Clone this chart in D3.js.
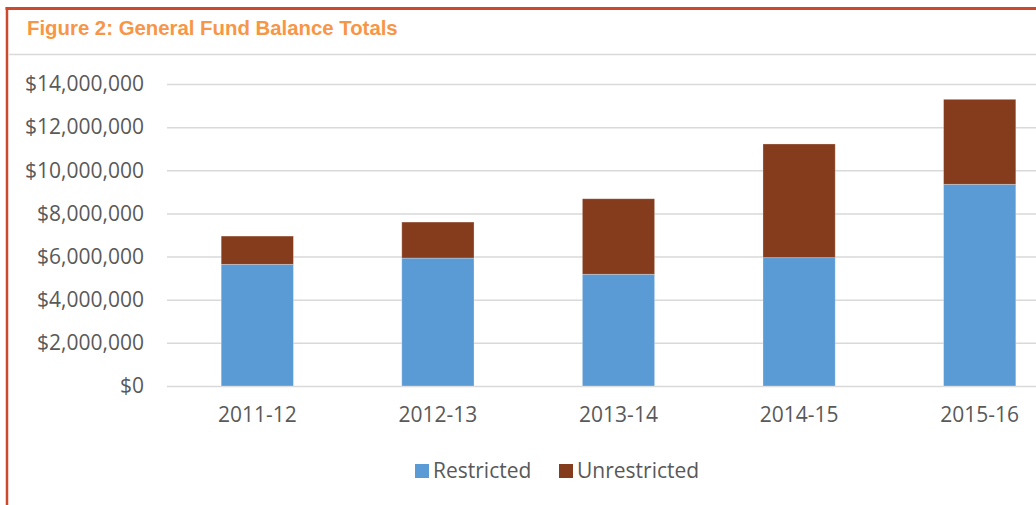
<!DOCTYPE html>
<html lang="en">
<head>
<meta charset="UTF-8">
<title>Figure 2: General Fund Balance Totals</title>
<script src="https://d3js.org/d3.v7.min.js"></script>
<style>
  body { margin: 0; background: #fff; }
  .grid line { stroke: #d9d9d9; stroke-width: 1.5; }
  .grid path { display: none; }
  .tick text { font-family: "Open Sans", sans-serif; fill: #595959; }
</style>
</head>
<body>
<div id="chart"></div>
<script>
  // data
  const years = ["2011-12", "2012-13", "2013-14", "2014-15", "2015-16"];
  const restricted = [5640000, 5930000, 5180000, 5950000, 9350000];
  const unrestricted = [1310000, 1670000, 3500000, 5270000, 3940000];
  const seriesNames = ["Restricted", "Unrestricted"];
  const yTicks = [0, 2000000, 4000000, 6000000, 8000000, 10000000, 12000000, 14000000];

  const colors = {Restricted: "#5b9bd5", Unrestricted: "#843c1c"};

  const W = 1036, H = 505;
  const plot = {left: 167, right: 1070, top: 84, bottom: 386};

  const svg = d3.select("#chart")
    .append("svg")
    .attr("width", W)
    .attr("height", H);

  // frame: red border on top and left, grey rule under the title
  svg.append("line")
    .attr("x1", 5.5).attr("x2", W).attr("y1", 8.5).attr("y2", 8.5)
    .attr("stroke", "#cc4a2c").attr("stroke-width", 3);
  svg.append("line")
    .attr("x1", 7).attr("x2", 7).attr("y1", 7).attr("y2", H)
    .attr("stroke", "#cc4a2c").attr("stroke-width", 2.5);
  svg.append("line")
    .attr("x1", 8).attr("x2", W).attr("y1", 54.5).attr("y2", 54.5)
    .attr("stroke", "#d9d9d9").attr("stroke-width", 1.5);

  // title, fitted to the width it has in the figure
  const title = svg.append("text")
    .attr("x", 27)
    .attr("y", 35)
    .style("font-family", "'Liberation Sans Narrow', 'Liberation Sans', Arial, sans-serif")
    .style("font-weight", "bold")
    .style("font-size", "20px")
    .attr("fill", "#f79646")
    .text("Figure 2: General Fund Balance Totals");
  const tw = title.node().getComputedTextLength();
  title.style("font-size", (20 * 371 / tw) + "px");

  const x = d3.scaleBand()
    .domain(years)
    .range([plot.left, plot.right])
    .paddingInner(0.6)
    .paddingOuter(0.3);

  const y = d3.scaleLinear()
    .domain([0, 14000000])
    .range([plot.bottom, plot.top]);

  // gridlines
  svg.append("g")
    .attr("class", "grid")
    .attr("transform", `translate(${plot.left},0)`)
    .call(d3.axisLeft(y).tickValues(yTicks).tickSize(-(W - plot.left)).tickFormat(""));

  // y axis labels
  svg.append("g")
    .attr("transform", `translate(${plot.left},0)`)
    .call(d3.axisLeft(y).tickValues(yTicks).tickSize(0).tickPadding(23)
      .tickFormat(d => "$" + d3.format(",")(d)))
    .call(g => g.select(".domain").remove())
    .selectAll("text")
    .style("font-size", "21px");

  // stacked bars
  const table = years.map((yr, i) => ({year: yr, Restricted: restricted[i], Unrestricted: unrestricted[i]}));
  const stack = d3.stack().keys(seriesNames)(table);

  svg.append("g")
    .selectAll("g")
    .data(stack)
    .join("g")
    .attr("fill", d => colors[d.key])
    .selectAll("rect")
    .data(d => d)
    .join("rect")
    .attr("x", d => x(d.data.year))
    .attr("y", d => y(d[1]))
    .attr("width", x.bandwidth())
    .attr("height", d => y(d[0]) - y(d[1]))
    .attr("stroke", "#ffffff")
    .attr("stroke-opacity", 0.35)
    .attr("stroke-width", 0.8);

  // x axis labels
  svg.append("g")
    .attr("transform", `translate(0,${plot.bottom})`)
    .call(d3.axisBottom(x).tickSize(0).tickPadding(21))
    .call(g => g.select(".domain").remove())
    .selectAll("text")
    .style("font-size", "21px");

  // legend
  const legendX = [415, 559];
  const legend = svg.append("g");
  legend.selectAll("rect")
    .data(seriesNames)
    .join("rect")
    .attr("x", (d, i) => legendX[i])
    .attr("y", 464)
    .attr("width", 14)
    .attr("height", 14)
    .attr("fill", d => colors[d]);
  legend.selectAll("text")
    .data(seriesNames)
    .join("text")
    .attr("x", (d, i) => legendX[i] + 18)
    .attr("y", 478)
    .style("font-family", "'Open Sans', sans-serif")
    .style("font-size", "21px")
    .attr("fill", "#595959")
    .text(d => d);
</script>
</body>
</html>
